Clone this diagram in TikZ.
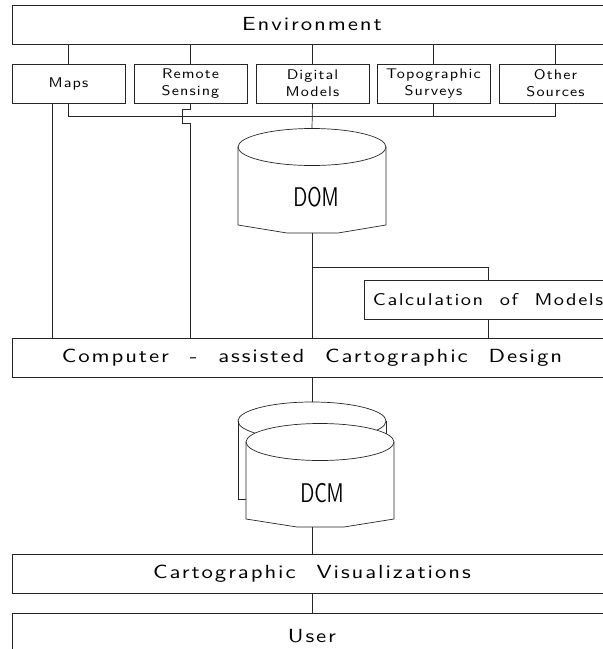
\documentclass[tikz,border=0pt]{standalone}
\usepackage{fontspec}
\newfontfamily\bigfam[FakeStretch=1.2,LetterSpace=10,WordSpace=2.2]{lmsans10-regular.otf}
\newfontfamily\midfam[FakeStretch=1.2,LetterSpace=9,WordSpace=2]{lmsans10-regular.otf}
\newfontfamily\smallfam[FakeStretch=1.15,LetterSpace=8]{lmsans10-regular.otf}
\newfontfamily\dbfam{lmsans10-regular.otf}
\newcommand\bigtxt{\bigfam\fontsize{19}{22}\selectfont}
\newcommand\midtxt{\midfam\fontsize{17}{20}\selectfont}
\newcommand\smalltxt{\smallfam\fontsize{14}{17}\selectfont}
\newcommand\dbtxt{\dbfam\fontsize{27}{30}\selectfont}
\begin{document}
\begin{tikzpicture}[x=1pt,y=-1pt,line width=0.7pt,draw=black!85,
  wide/.style={draw, minimum width=600pt, minimum height=39pt, inner sep=0pt, font=\bigtxt},
  src/.style={draw, minimum width=113pt, minimum height=39pt, inner sep=0pt, align=center, font=\smalltxt},
  db/.style={font=\dbtxt, inner sep=0pt}]
\useasboundingbox (0,0) rectangle (603,649);
\clip (0,0) rectangle (603,649);

% boxes
\node[wide] (env) at (312,24.5) {Environment};
\node[src] (maps)   at (68.5,83.5)  {Maps};
\node[src] (remote) at (190.5,83.5) {Remote\\Sensing};
\node[src] (digi)   at (312.5,83.5) {Digital\\Models};
\node[src] (topo)   at (433.5,83.5) {Topographic\\Surveys};
\node[src] (other)  at (555.5,83.5) {Other\\Sources};
\node[wide, minimum width=248pt, font=\midtxt] (calc) at (488,299.5) {Calculation of Models};
\node[wide] (comp) at (312,357.5) {Computer - assisted Cartographic Design};
\node[wide] (vis)  at (312,573.5) {Cartographic Visualizations};
\node[wide, minimum height=46pt] (user) at (312,636) {User};

% DOM cylinder
\draw (238,147) -- (238,225) -- (287,233) -- (338,233) -- (386,225) -- (386,147);
\draw (312,147) ellipse [x radius=74pt, y radius=18.5pt];
\node[db] (dom) at (316,197) {\scalebox{0.72}[1]{DOM}};
\coordinate (domtop) at (312,128.5);
\coordinate (dombot) at (312,233);

% DCM cylinders
\draw (238,421) -- (238,499) -- (246,499);
\draw (386,421) -- (386,440);
\draw (312,421) ellipse [x radius=74pt, y radius=19pt];
\fill[white] (246,442) -- (246,519) -- (297,527) -- (344,527) -- (394,519) -- (394,442) -- cycle;
\fill[white] (320,442) ellipse [x radius=74pt, y radius=18.5pt];
\draw (246,442) -- (246,519) -- (297,527) -- (344,527) -- (394,519) -- (394,442);
\draw (320,442) ellipse [x radius=74pt, y radius=18.5pt];
\node[db] (dcm) at (322,493) {\scalebox{0.72}[1]{DCM}};
\coordinate (dcmtop) at (312,402);
\coordinate (dcmbot) at (312,527);

% environment to sources
\foreach \s in {maps,remote,digi,topo,other}
  \draw (env.south -| \s.north) -- (\s.north);

% collecting bus
\coordinate (busL) at (68.5,116);
\draw (maps.south) -- (busL) -- (busL -| other.south) -- (other.south);
\draw (topo.south) -- (topo.south |- busL);
\draw (digi.south) -- (domtop);

% direct lines to design
\draw ([xshift=-16.5pt]maps.south) -- ([xshift=-16.5pt]maps.south |- comp.north);
\draw (remote.south) -- ++(0,6) -- ++(-8.5,0) -- ++(0,14) -- ++(8.5,0) -- (remote.south |- comp.north);

% DOM to design and calculation
\draw (dombot) -- (dombot |- comp.north);
\coordinate (branch) at (312,267);
\draw (branch) -- (branch -| calc.north) -- (calc.north);
\draw (calc.south) -- (calc.south |- comp.north);

% lower chain
\draw (comp.south) -- (dcmtop);
\draw (dcmbot) -- (vis.north);
\draw (vis.south) -- (user.north);
\end{tikzpicture}
\end{document}
